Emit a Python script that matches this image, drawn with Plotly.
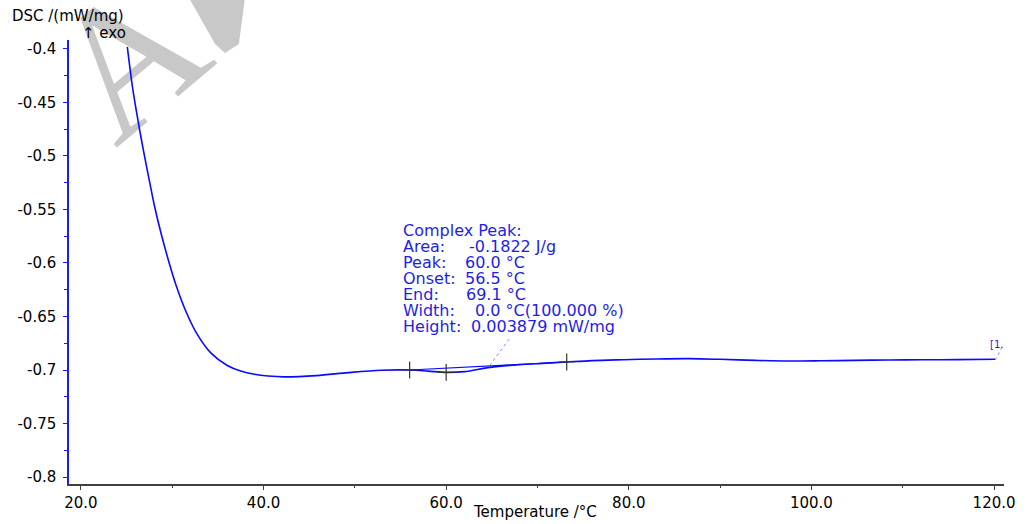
import plotly.graph_objects as go

# ---------------- data ----------------
temperature = [25.08, 25.69, 26.42, 26.96, 27.51, 28.05, 28.78, 29.50, 30.41,
               31.50, 32.76, 34.22, 36.03, 37.5, 39.0, 40.5, 42.2, 45.8, 49.3,
               52.9, 56.0, 58.0, 60.0, 62.0, 64.8, 68.0, 70.5, 73.2, 76.0, 79.4,
               83.0, 86.6, 90.0, 93.9, 97.5, 101.0, 104.7, 108.5, 112.0, 116.0,
               120.15]
dsc = [-0.398, -0.4381, -0.4752, -0.5000, -0.5238, -0.5465, -0.5725, -0.5950,
       -0.6206, -0.6453, -0.6670, -0.6840, -0.6958, -0.7010, -0.7040, -0.7056,
       -0.7064, -0.7052, -0.7024, -0.7002, -0.7000, -0.7010, -0.7022, -0.7015,
       -0.6975, -0.6950, -0.6938, -0.6925, -0.6912, -0.6904, -0.6897, -0.6894,
       -0.6900, -0.6910, -0.6916, -0.6914, -0.6910, -0.6906, -0.6904, -0.6903,
       -0.6900]

baseline_T = [56.0, 73.2]
baseline_dsc = [-0.7000, -0.6925]

marker_T = [56.0, 60.0, 73.2]
marker_dsc = [-0.7000, -0.7022, -0.6925]

x_tickvals = [20, 40, 60, 80, 100, 120]
x_ticktext = ["20.0", "40.0", "60.0", "80.0", "100.0", "120.0"]
y_tickvals = [-0.4, -0.45, -0.5, -0.55, -0.6, -0.65, -0.7, -0.75, -0.8]
y_ticktext = ["-0.4", "-0.45", "-0.5", "-0.55", "-0.6", "-0.65", "-0.7", "-0.75", "-0.8"]

peak_title = "Complex Peak:"
peak_labels = ["Area:", "Peak:", "Onset:", "End:", "Width:", "Height:"]
peak_values = ["-0.1822 J/g", "60.0 °C", "56.5 °C", "69.1 °C",
               "0.0 °C(100.000 %)", "0.003879 mW/mg"]

# ---------------- layout geometry ----------------
W, H = 1027, 524
L, R, T, B = 69, 1010, 40, 487
FONT = "DejaVu Sans"
BLUE = "#0a0aff"
TXTBLUE = "#1e1ee6"
WM = "#c8c8c8"


def px(x):
    return (x - L) / (R - L)


def py(y):
    return (B - y) / (B - T)


fig = go.Figure()

fig.add_trace(go.Scatter(
    x=temperature, y=dsc, mode="lines",
    line=dict(color=BLUE, width=1.6, shape="spline", smoothing=0.9),
    hoverinfo="skip", showlegend=False))

fig.add_trace(go.Scatter(
    x=baseline_T, y=baseline_dsc, mode="lines",
    line=dict(color=BLUE, width=1.2),
    hoverinfo="skip", showlegend=False))

fig.add_trace(go.Scatter(
    x=marker_T, y=marker_dsc, mode="markers",
    marker=dict(symbol="cross-thin", size=12, line=dict(color="#333333", width=1.2)),
    hoverinfo="skip", showlegend=False))

annotations = []

# axis titles
annotations.append(dict(text="DSC /(mW/mg)", x=px(10), y=py(16), xref="paper", yref="paper",
                        xanchor="left", yanchor="middle", showarrow=False,
                        font=dict(family=FONT, size=15, color="#000000")))
annotations.append(dict(text="↑ exo", x=px(80), y=py(33), xref="paper", yref="paper",
                        xanchor="left", yanchor="middle", showarrow=False,
                        font=dict(family=FONT, size=15, color="#000000")))
annotations.append(dict(text="Temperature /°C", x=px(538), y=py(515), xref="paper", yref="paper",
                        xanchor="center", yanchor="middle", showarrow=False,
                        font=dict(family=FONT, size=15, color="#000000")))

# peak info block
line_y = [248.3, 264.3, 280.4, 296.5, 312.6, 328.7]
value_x = [470, 466, 466, 467, 476, 472]
annotations.append(dict(text=peak_title, x=px(403), y=py(231.5), xref="paper", yref="paper",
                        xanchor="left", yanchor="middle", showarrow=False,
                        font=dict(family=FONT, size=16, color=TXTBLUE)))
for lab, val, yy, vx in zip(peak_labels, peak_values, line_y, value_x):
    annotations.append(dict(text=lab, x=px(403), y=py(yy), xref="paper", yref="paper",
                            xanchor="left", yanchor="middle", showarrow=False,
                            font=dict(family=FONT, size=16, color=TXTBLUE)))
    annotations.append(dict(text=val, x=px(vx), y=py(yy), xref="paper", yref="paper",
                            xanchor="left", yanchor="middle", showarrow=False,
                            font=dict(family=FONT, size=16, color=TXTBLUE)))

# curve label at the end
annotations.append(dict(text="[1.", x=px(994), y=py(347), xref="paper", yref="paper",
                        xanchor="left", yanchor="middle", showarrow=False,
                        font=dict(family=FONT, size=10, color=TXTBLUE)))

band = [(190, -2), (246, -2), (240, 44), (226, 53), (216, 44)]
band_path = "M " + " L ".join(f"{px(a):.5f},{py(b):.5f}" for a, b in band) + " Z"

shapes = [
    # watermark letter (below traces)
    dict(type="line", xref="paper", yref="paper",
         x0=px(103), y0=py(51), x1=px(125), y1=py(33), layer="below",
         line=dict(width=0, color="rgba(0,0,0,0)"),
         label=dict(text="A", textangle=-40, textposition="middle",
                    xanchor="center", yanchor="middle",
                    font=dict(family="Liberation Serif", size=186, color=WM))),
    # fragment of the next watermark letter
    dict(type="path", xref="paper", yref="paper", path=band_path, layer="below",
         fillcolor=WM, line=dict(width=0)),
    # leader from peak text to curve
    dict(type="line", xref="paper", yref="paper",
         x0=px(512), y0=py(341), x1=px(493), y1=py(367),
         line=dict(color="#8c8cff", width=1, dash="dot")),
    # leader from curve label to curve end
    dict(type="line", xref="paper", yref="paper",
         x0=px(1008), y0=py(349), x1=px(1002), y1=py(361),
         line=dict(color="#8c8cff", width=1, dash="dot")),
]

fig.update_layout(
    width=W, height=H,
    margin=dict(l=L, r=W - R, t=T, b=H - B, pad=0),
    paper_bgcolor="white", plot_bgcolor="white",
    font=dict(family=FONT, size=15, color="#000000"),
    annotations=annotations, shapes=shapes,
    showlegend=False,
)

fig.update_xaxes(
    range=[18.694, 121.088], showgrid=False, zeroline=False,
    showline=True, linecolor="#404040", linewidth=1.5,
    tickmode="array", tickvals=x_tickvals, ticktext=x_ticktext,
    ticks="outside", ticklen=4, tickwidth=1, tickcolor="#404040",
    minor=dict(tickmode="linear", tick0=0, dtick=10, ticks="outside", ticklen=2,
               tickcolor="#404040"),
    tickfont=dict(family=FONT, size=15, color="#000000"),
)
fig.update_yaxes(
    range=[-0.8065, -0.39165], showgrid=False, zeroline=False,
    showline=True, linecolor="#1a1aff", linewidth=1.5,
    tickmode="array", tickvals=y_tickvals, ticktext=y_ticktext,
    ticks="outside", ticklen=4, tickwidth=1.2, tickcolor="#1a1aff",
    minor=dict(tickmode="linear", tick0=0, dtick=0.025, ticks="outside", ticklen=3,
               tickcolor="#1a1aff"),
    ticklabelstandoff=4,
    tickfont=dict(family=FONT, size=15, color="#000000"),
)

fig.write_html(
    "out.html",
    config={"displayModeBar": False},
    post_script="document.body.style.margin='0';document.body.style.padding='0';"
                "document.body.style.overflow='hidden';",
)
